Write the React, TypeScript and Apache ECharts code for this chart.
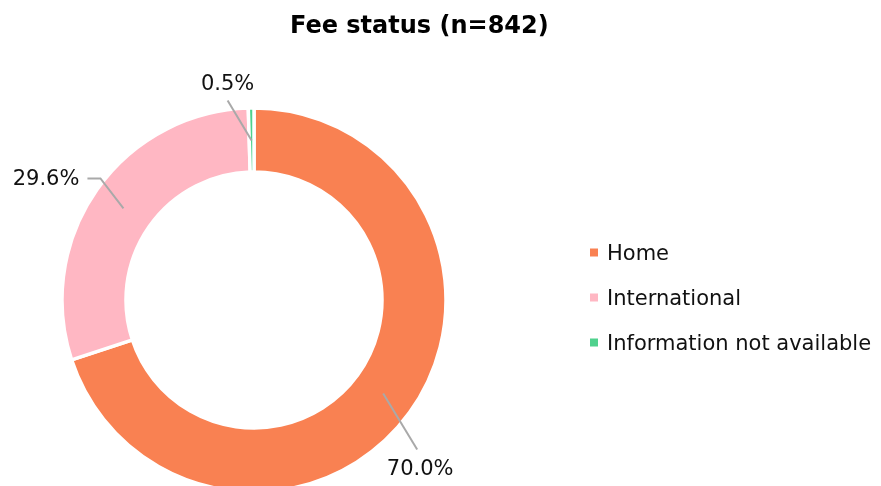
import React, { useEffect, useRef } from "react";
import * as echarts from "echarts";

const categories = ["Home", "International", "Information not available"];
const counts = [589, 249, 4];
const colors = ["#F98152", "#FFB7C3", "#4FD18D"];
const titleText = "Fee status (n=842)";

const CX = 254;
const CY = 300;
const R_IN = 128;
const R_OUT = 191;
const MID_R = (R_IN + R_OUT) / 2;

// label placement relative to the mid-ring anchor point of each slice
const LABEL_LAYOUT = [
  { pts: [[0, 0], [34, 56], [34, 56]], tx: 37, ty: 74, align: "center" },
  { pts: [[0, 0], [-23, -30], [-36, -30]], tx: -44, ty: -30, align: "right" },
  { pts: [[0, 0], [-24, -40], [-24, -40]], tx: -24, ty: -58, align: "center" },
];

export default function App() {
  const ref = useRef<HTMLDivElement>(null);
  useEffect(() => {
    if (!ref.current) return;
    const chart = echarts.init(ref.current, undefined, { renderer: "svg" });
    const total = counts.reduce((a, b) => a + b, 0);
    const midAngles: number[] = [];
    let cum = 0;
    counts.forEach((v) => {
      midAngles.push((2 * Math.PI * (cum + v / 2)) / total);
      cum += v;
    });
    const font = "'DejaVu Sans', sans-serif";
    const data = categories.map((name, i) => ({
      name,
      value: counts[i],
      itemStyle: { color: colors[i] },
    }));
    chart.setOption({
      animation: false,
      title: {
        text: titleText,
        left: 285,
        top: 8,
        textStyle: { fontFamily: font, fontWeight: "bold", fontSize: 24, color: "#000" },
      },
      legend: {
        orient: "vertical",
        left: 583,
        top: 237,
        icon: "rect",
        itemWidth: 10,
        itemHeight: 10,
        itemGap: 24,
        data: categories.map((name, i) => ({ name, itemStyle: { color: colors[i] } })),
        textStyle: {
          fontFamily: font,
          fontSize: 21,
          color: "#111",
          lineHeight: 20,
          padding: [0, 0, 0, 3],
        },
      },
      series: [
        {
          type: "pie",
          center: [CX, CY],
          radius: [R_IN, R_OUT + 1],
          startAngle: 90,
          clockwise: true,
          silent: true,
          itemStyle: { borderColor: "#fff", borderWidth: 3.5 },
          label: { show: false },
          labelLine: { show: false },
          data,
        },
        {
          type: "pie",
          z: 5,
          center: [CX, CY],
          radius: [R_IN, R_OUT],
          startAngle: 90,
          clockwise: true,
          silent: true,
          itemStyle: { color: "rgba(0,0,0,0)", borderWidth: 0 },
          label: {
            show: true,
            position: "outside",
            fontFamily: font,
            fontSize: 21,
            color: "#111",
            overflow: "none",
            width: 200,
            formatter: (p: any) => ((p.value / total) * 100).toFixed(1) + "%",
          },
          labelLine: { show: true, lineStyle: { color: "#a9a9a9", width: 2 } },
          labelLayout: (params: any) => {
            const i = params.dataIndex;
            const th = midAngles[i];
            const sx = CX + MID_R * Math.sin(th);
            const sy = CY - MID_R * Math.cos(th);
            const L = LABEL_LAYOUT[i];
            return {
              x: sx + L.tx,
              y: sy + L.ty,
              align: L.align,
              verticalAlign: "middle",
              labelLinePoints: L.pts.map(([dx, dy]) => [sx + dx, sy + dy]),
            };
          },
          data: categories.map((name, i) => ({ name, value: counts[i] })),
        },
      ],
    });
    return () => chart.dispose();
  }, []);
  return (
    <div
      ref={ref}
      style={{ position: "fixed", left: 0, top: 0, width: 881, height: 486 }}
    />
  );
}
